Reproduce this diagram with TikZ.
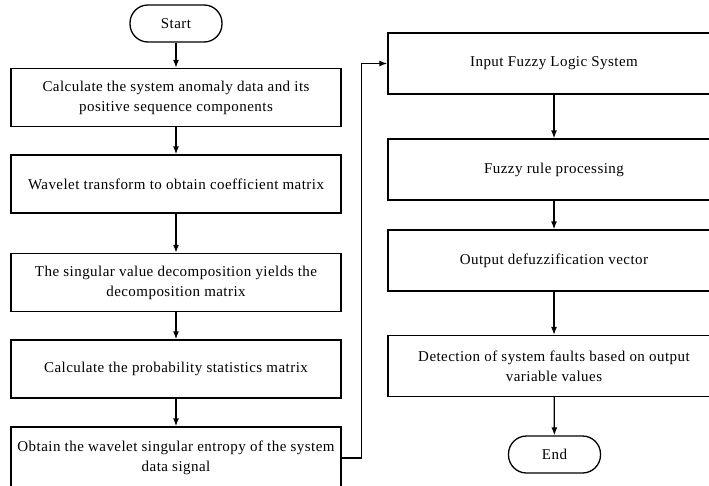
\documentclass[tikz,border=0pt]{standalone}
\usepackage{fontspec}
\setmainfont{Liberation Serif}[LetterSpace=3]
\usetikzlibrary{arrows.meta,positioning}

\begin{document}
\begin{tikzpicture}[x=1pt,y=-1pt,>={Latex[length=8pt,width=6pt]},line width=1.3pt,
  every node/.style={font=\fontsize{15}{20}\selectfont},
  proc/.style={draw,align=center,minimum width=330pt,minimum height=58pt,inner sep=2pt},
  fuzzy/.style={draw,align=center,minimum width=332pt,minimum height=61pt,inner sep=2pt},
  term/.style={draw,rounded corners=18pt,minimum width=92pt,minimum height=37pt}]
\useasboundingbox (0,0) rectangle (709,485);
\clip (0,0) rectangle (709,485);
% left column
\node[term] (start) at (176,23.5) {Start};
\node[proc] (calc) at (176,97.5) {Calculate the system anomaly data and its\\positive sequence components};
\node[proc] (wave) at (176,184) {Wavelet transform to obtain coefficient matrix};
\node[proc] (svd) at (176,282.5) {The singular value decomposition yields the\\decomposition matrix};
\node[proc] (prob) at (176,369) {Calculate the probability statistics matrix};
\node[proc,minimum height=62pt] (entr) at (176,458) {Obtain the wavelet singular entropy of the system\\data signal};
% right column
\node[fuzzy] (fls) at (554,63.5) {Input Fuzzy Logic System};
\node[fuzzy] (rule) at (554,169.5) {Fuzzy rule processing};
\node[fuzzy] (defz) at (554,260.5) {Output defuzzification vector};
\node[fuzzy] (dect) at (554,366) {Detection of system faults based on output\\variable values};
\node[term] (end) at (554.5,454.5) {End};
% arrows
\draw[->] (start) -- (calc);
\draw[->] (calc) -- (wave);
\draw[->] (wave) -- (svd);
\draw[->] (svd) -- (prob);
\draw[->] (prob) -- (entr);
\draw[->] (entr.east) -- ++(20,0) |- (fls.west);
\draw[->] (fls) -- (rule);
\draw[->] (rule) -- (defz);
\draw[->] (defz) -- (dect);
\draw[->] (dect) -- (end);
\end{tikzpicture}
\end{document}
